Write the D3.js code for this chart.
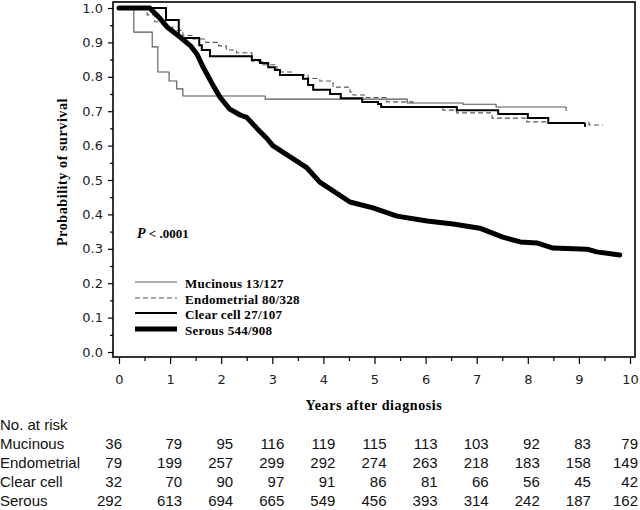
<!DOCTYPE html>
<html><head><meta charset="utf-8">
<script src="https://cdn.jsdelivr.net/npm/d3@7"></script>
<style>
body{margin:0;background:#fff;}
svg{display:block;}
</style></head>
<body>
<svg id="chart" width="640" height="510"></svg>
<script>
// ---- data ----
const mucinousT = [0,0.29,0.65,0.76,0.98,1.13,1.25,2.86,5.64,6.73,7.38];
const mucinousS = [1,0.93,0.887,0.814,0.788,0.765,0.744,0.735,0.724,0.72,0.712];
const mucinousEnd = 8.75;

const endometrialT = [0,0.55,0.7,0.85,1.05,1.25,1.45,1.7,1.95,2.1,2.3,2.6,2.8,3.09,3.4,3.7,3.93,4.19,4.52,4.58,4.8,5.24,5.75,6.34,6.61,7.3,7.98,8.4,9.2];
const endometrialS = [1,0.98,0.96,0.945,0.935,0.92,0.91,0.9,0.89,0.878,0.87,0.845,0.835,0.814,0.805,0.795,0.788,0.77,0.756,0.747,0.74,0.727,0.712,0.703,0.695,0.68,0.669,0.666,0.66];
const endometrialEnd = 9.47;

const clearT = [0,0.92,1.17,1.57,1.62,1.78,2.6,2.76,2.92,3.05,3.15,3.6,3.7,3.8,4.13,4.34,4.76,5.07,5.13,6.61,7.42,8.0,8.4];
const clearS = [1,0.965,0.913,0.892,0.878,0.86,0.849,0.84,0.828,0.82,0.805,0.794,0.776,0.762,0.75,0.738,0.727,0.721,0.712,0.703,0.692,0.68,0.666];
const clearEnd = 9.12;

const serousT = [0,0.6,0.8,0.94,1.2,1.4,1.53,1.64,1.84,1.98,2.16,2.37,2.5,2.7,2.9,3.01,3.35,3.68,3.93,4.52,4.97,5.44,6.03,6.54,7.06,7.51,7.85,8.18,8.49,9.16,9.35,9.8];
const serousS = [1,1,0.97,0.945,0.915,0.89,0.865,0.83,0.775,0.74,0.707,0.689,0.682,0.65,0.62,0.6,0.567,0.535,0.494,0.436,0.419,0.395,0.381,0.372,0.36,0.334,0.32,0.317,0.302,0.299,0.291,0.282];

const seriesNames = ["Mucinous 13/127","Endometrial 80/328","Clear cell 27/107","Serous 544/908"];
const xTicks = [0,1,2,3,4,5,6,7,8,9,10];
const yTicks = [0,0.1,0.2,0.3,0.4,0.5,0.6,0.7,0.8,0.9,1.0];
const riskRows = ["Mucinous","Endometrial","Clear cell","Serous"];
const riskMucinous = [36,79,95,116,119,115,113,103,92,83,79];
const riskEndometrial = [79,199,257,299,292,274,263,218,183,158,149];
const riskClear = [32,70,90,97,91,86,81,66,56,45,42];
const riskSerous = [292,613,694,665,549,456,393,314,242,187,162];

// ---- drawing ----
const svg = d3.select("#chart");
const x = d3.scaleLinear().domain([0,10]).range([119,630]);
const y = d3.scaleLinear().domain([0,1]).range([352,8]);
const serif = "'Liberation Serif', 'DejaVu Serif', serif";
const sans = "'DejaVu Sans', sans-serif";
const tableFont = "'Liberation Sans', Arial, sans-serif";

// frame
svg.append("rect").attr("x",113).attr("y",2).attr("width",522).attr("height",355)
  .attr("fill","none").attr("stroke","#000").attr("stroke-width",1.6);

// y axis
const yAx = svg.append("g").attr("transform","translate(113,0)")
  .call(d3.axisLeft(y).tickValues(yTicks).tickFormat(d3.format(".1f")).tickSize(5).tickPadding(5));
yAx.select(".domain").remove();
yAx.selectAll("text").attr("font-family",sans).attr("font-size",13).attr("fill","#222");
const yMin = svg.append("g").attr("transform","translate(113,0)")
  .call(d3.axisLeft(y).tickValues(d3.range(0.05,1,0.1)).tickFormat("").tickSize(3));
yMin.select(".domain").remove();

// x axis
const xAx = svg.append("g").attr("transform","translate(0,357)")
  .call(d3.axisBottom(x).tickValues(xTicks).tickFormat(d3.format("d")).tickSize(7).tickPadding(11));
xAx.select(".domain").remove();
xAx.selectAll("text").attr("font-family",sans).attr("font-size",13).attr("fill","#222");
const xMin = svg.append("g").attr("transform","translate(0,357)")
  .call(d3.axisBottom(x).tickValues(d3.range(0.5,10,1)).tickFormat("").tickSize(4));
xMin.select(".domain").remove();
svg.selectAll(".tick line").attr("stroke","#000").attr("stroke-width",1.2);

// axis titles
svg.append("text").attr("x",374).attr("y",410).attr("text-anchor","middle")
  .attr("font-family",serif).attr("font-weight","bold").attr("font-size",14)
  .attr("letter-spacing",0.6).text("Years after diagnosis");
svg.append("text").attr("transform","translate(67,172) rotate(-90)").attr("text-anchor","middle")
  .attr("font-family",serif).attr("font-weight","bold").attr("font-size",14)
  .attr("letter-spacing",0.6).text("Probability of survival");

// curves
function pts(T,S,end){ const p = T.map((t,i)=>[t,S[i]]); if(end!==undefined) p.push([end,S[S.length-1]]); return p; }
const stepLine = d3.line().x(d=>x(d[0])).y(d=>y(d[1])).curve(d3.curveStepAfter);
const linLine = d3.line().x(d=>x(d[0])).y(d=>y(d[1])).curve(d3.curveLinear);

svg.append("path").attr("d",stepLine(pts(mucinousT,mucinousS,mucinousEnd)))
  .attr("fill","none").attr("stroke","#555").attr("stroke-width",1.1);
svg.append("path").attr("d",stepLine(pts(endometrialT,endometrialS,endometrialEnd)))
  .attr("fill","none").attr("stroke","#555").attr("stroke-width",1.1).attr("stroke-dasharray","5,3");
svg.append("path").attr("d",stepLine(pts(clearT,clearS,clearEnd)))
  .attr("fill","none").attr("stroke","#000").attr("stroke-width",2);
svg.append("path").attr("d",linLine(pts(serousT,serousS)))
  .attr("fill","none").attr("stroke","#000").attr("stroke-width",5).attr("stroke-linejoin","round").attr("stroke-linecap","round");

// censor ticks at ends
[[mucinousEnd,mucinousS[mucinousS.length-1],"#555",1.1],[clearEnd,clearS[clearS.length-1],"#000",2]].forEach(c=>{
  svg.append("line").attr("x1",x(c[0])).attr("x2",x(c[0])).attr("y1",y(c[1])).attr("y2",y(c[1])+4)
    .attr("stroke",c[2]).attr("stroke-width",c[3]);
});

// p value
const pt = svg.append("text").attr("x",137).attr("y",238).attr("font-family",serif).attr("font-weight","bold").attr("font-size",14);
pt.append("tspan").attr("font-style","italic").text("P");
pt.append("tspan").attr("font-size",13).text(" < .0001");

// legend
const legStyles = [
  {stroke:"#555",w:1.1,dash:null},
  {stroke:"#555",w:1.1,dash:"5,3"},
  {stroke:"#000",w:2,dash:null},
  {stroke:"#000",w:5,dash:null}
];
const legY = [282,298,313,329];
seriesNames.forEach((n,i)=>{
  svg.append("line").attr("x1",135).attr("x2",177).attr("y1",legY[i]).attr("y2",legY[i])
    .attr("stroke",legStyles[i].stroke).attr("stroke-width",legStyles[i].w)
    .attr("stroke-dasharray",legStyles[i].dash);
  svg.append("text").attr("x",185).attr("y",legY[i]+6).attr("font-family",serif)
    .attr("font-weight","bold").attr("font-size",13).attr("letter-spacing",0.3).text(n);
});

// risk table
svg.append("text").attr("x",0).attr("y",430).attr("font-family",tableFont)
  .attr("font-size",15).attr("fill","#111").text("No. at risk");
const riskData = [riskMucinous,riskEndometrial,riskClear,riskSerous];
riskRows.forEach((r,i)=>{
  const yy = 449 + i*19;
  svg.append("text").attr("x",0).attr("y",yy).attr("font-family",tableFont)
    .attr("font-size",15).attr("fill","#111").text(r);
  riskData[i].forEach((v,j)=>{
    const xx = j===0 ? x(xTicks[j])+3 : Math.min(x(xTicks[j])+12, 638);
    svg.append("text").attr("x",xx).attr("y",yy).attr("text-anchor","end")
      .attr("font-family",tableFont).attr("font-size",15).attr("fill","#111").text(v);
  });
});
</script>
</body></html>
